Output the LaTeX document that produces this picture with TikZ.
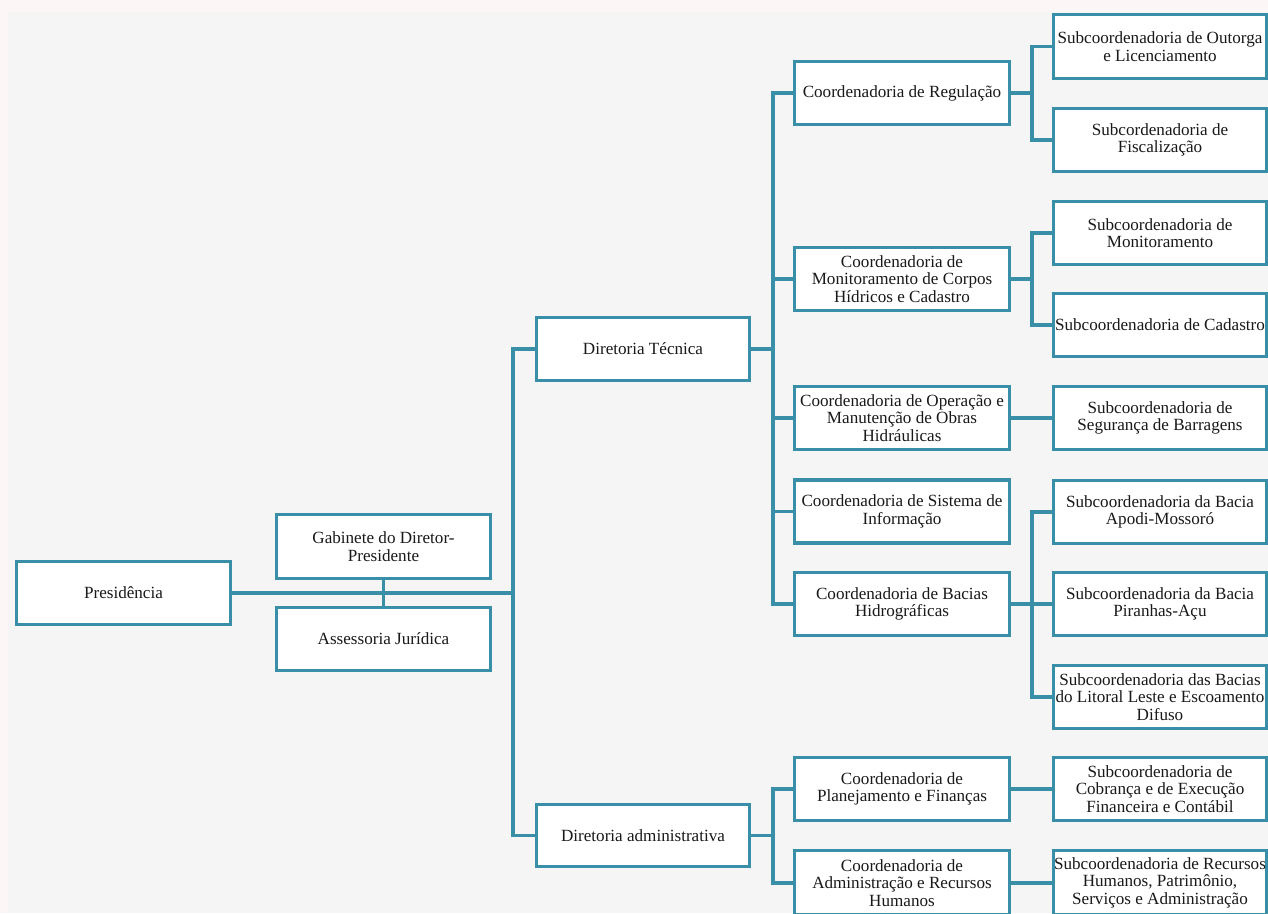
\documentclass[tikz,border=0pt]{standalone}
\usepackage{fontspec}
\setmainfont{Liberation Serif}
\definecolor{teal1}{RGB}{58,143,168}
\definecolor{pinkbg}{RGB}{253,246,246}
\definecolor{graybg}{RGB}{245,245,245}
\definecolor{txt}{RGB}{25,25,25}
\begin{document}
\begin{tikzpicture}[x=1pt,y=-1pt,
  box/.style={draw=teal1, line width=3.3pt, fill=white, inner sep=0pt, align=center,
    text=txt, font=\fontsize{17.1}{17.5}\selectfont},
  wA/.style={minimum width=214pt},
  wB/.style={minimum width=213pt},
  hA/.style={minimum height=63pt},
  conn/.style={draw=teal1, line width=3.5pt, line join=miter}]
\useasboundingbox (0,0) rectangle (1268,913);
\fill[pinkbg] (0,0) rectangle (1268,913);
\fill[graybg] (8,12) rectangle (1268,913);
\begin{scope}
\clip (0,0) rectangle (1268,913);
% level 0/1
\node[box,wA,hA] (pres) at (123.5,593) {Presidência};
\node[box,wA,minimum height=64pt] (gab) at (383.5,546.5) {Gabinete do Diretor-\\Presidente};
\node[box,wA,hA] (ass) at (383.5,639) {Assessoria Jurídica};
\node[box,wB,hA] (dirT) at (643,349) {Diretoria Técnica};
\node[box,wB,minimum height=62pt] (dirA) at (643,835.5) {Diretoria administrativa};
% coordenadorias
\node[box,minimum width=215pt,hA] (reg) at (902,93) {Coordenadoria de Regulação};
\node[box,minimum width=215pt,hA] (mon) at (902,279) {Coordenadoria de\\Monitoramento de Corpos\\Hídricos e Cadastro};
\node[box,minimum width=215pt,hA] (op) at (902,418) {Coordenadoria de Operação e\\Manutenção de Obras\\Hidráulicas};
\node[box,minimum width=215pt,hA] (sis) at (902,511.5) {Coordenadoria de Sistema de\\Informação};
\node[box,minimum width=215pt,hA] (bac) at (902,604) {Coordenadoria de Bacias\\Hidrográficas};
\node[box,minimum width=215pt,hA] (plan) at (902,789) {Coordenadoria de\\Planejamento e Finanças};
\node[box,minimum width=215pt,minimum height=64.5pt] (adm) at (902,882.75) {Coordenadoria de\\Administração e Recursos\\Humanos};
% subcoordenadorias
\node[box,wB,minimum height=64pt] (out) at (1160,46.5) {Subcoordenadoria de Outorga\\e Licenciamento};
\node[box,wB,hA] (fis) at (1160,140) {Subcordenadoria de\\Fiscalização};
\node[box,wB,hA] (mons) at (1160,233) {Subcoordenadoria de\\Monitoramento};
\node[box,wB,hA] (cad) at (1160,325) {Subcoordenadoria de Cadastro};
\node[box,wB,hA] (seg) at (1160,418) {Subcoordenadoria de\\Segurança de Barragens};
\node[box,wB,hA] (apo) at (1160,512) {Subcoordenadoria da Bacia\\Apodi-Mossoró};
\node[box,wB,hA] (pir) at (1160,604) {Subcoordenadoria da Bacia\\Piranhas-Açu};
\node[box,wB,hA] (lit) at (1160,697) {Subcoordenadoria das Bacias\\do Litoral Leste e Escoamento\\Difuso};
\node[box,wB,hA] (cob) at (1160,789) {Subcoordenadoria de\\Cobrança e de Execução\\Financeira e Contábil};
\node[box,wB,minimum height=64.5pt] (rec) at (1160,882.75) {Subcoordenadoria de Recursos\\Humanos, Patrimônio,\\Serviços e Administração};
% junction coordinates
\coordinate (tA) at (513,593);
\coordinate (tB) at (773,349);
\coordinate (tC) at (773,835.5);
\coordinate (jR) at (1032,93);
\coordinate (jM) at (1032,279);
\coordinate (jB) at (1032,604);
\end{scope}
% connectors
\draw[conn] (pres.east) -- (tA);
\draw[conn] (gab.south) -- (ass.north);
\draw[conn] (dirT.west) -| (tA) |- (dirA.west);
\draw[conn] (dirT.east) -- (tB);
\draw[conn] (reg.west) -| (tB) |- (bac.west);
\draw[conn] (mon.west) -- (mon.west -| tB);
\draw[conn] (op.west) -- (op.west -| tB);
\draw[conn] (sis.west) -- (sis.west -| tB);
\draw[conn] (dirA.east) -- (tC);
\draw[conn] (plan.west) -| (tC) |- (adm.west);
\draw[conn] (reg.east) -- (jR);
\draw[conn] (out.west) -| (jR) |- (fis.west);
\draw[conn] (mon.east) -- (jM);
\draw[conn] (mons.west) -| (jM) |- (cad.west);
\draw[conn] (op.east) -- (seg.west);
\draw[conn] (bac.east) -- (jB);
\draw[conn] (apo.west) -| (jB) |- (lit.west);
\draw[conn] (pir.west) -- (jB);
\draw[conn] (plan.east) -- (cob.west);
\draw[conn] (adm.east) -- (rec.west);
\end{tikzpicture}
\end{document}
